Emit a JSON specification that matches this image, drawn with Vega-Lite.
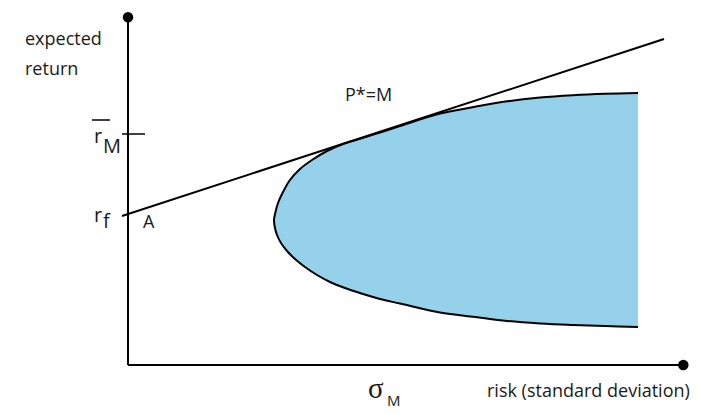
{
  "$schema": "https://vega.github.io/schema/vega-lite/v6.json",
  "width": 556,
  "height": 348,
  "autosize": {"type": "none"},
  "padding": {"left": 128, "top": 17, "right": 17, "bottom": 49},
  "background": "white",
  "config": {"view": {"stroke": null}},
  "datasets": {
    "frontier": [
      {"step": 1, "risk": 51.0, "ret": 27.2},
      {"step": 2, "risk": 47.7, "ret": 27.12},
      {"step": 3, "risk": 44.5, "ret": 26.98},
      {"step": 4, "risk": 41.2, "ret": 26.75},
      {"step": 5, "risk": 37.9, "ret": 26.37},
      {"step": 6, "risk": 34.7, "ret": 25.82},
      {"step": 7, "risk": 31.2, "ret": 25.15},
      {"step": 8, "risk": 27.2, "ret": 23.9},
      {"step": 9, "risk": 25.2, "ret": 23.25},
      {"step": 10, "risk": 23.2, "ret": 22.63},
      {"step": 11, "risk": 21.5, "ret": 22.1},
      {"step": 12, "risk": 19.9, "ret": 21.4},
      {"step": 13, "risk": 18.4, "ret": 20.5},
      {"step": 14, "risk": 17.2, "ret": 19.6},
      {"step": 15, "risk": 16.2, "ret": 18.5},
      {"step": 16, "risk": 15.5, "ret": 17.3},
      {"step": 17, "risk": 15.0, "ret": 16.2},
      {"step": 18, "risk": 14.75, "ret": 15.3},
      {"step": 19, "risk": 14.6, "ret": 14.5},
      {"step": 20, "risk": 14.7, "ret": 13.7},
      {"step": 21, "risk": 14.9, "ret": 13.0},
      {"step": 22, "risk": 15.3, "ret": 12.2},
      {"step": 23, "risk": 15.9, "ret": 11.4},
      {"step": 24, "risk": 16.7, "ret": 10.6},
      {"step": 25, "risk": 17.7, "ret": 9.8},
      {"step": 26, "risk": 18.9, "ret": 9.0},
      {"step": 27, "risk": 20.2, "ret": 8.3},
      {"step": 28, "risk": 21.7, "ret": 7.7},
      {"step": 29, "risk": 23.2, "ret": 7.2},
      {"step": 30, "risk": 25.2, "ret": 6.6},
      {"step": 31, "risk": 27.2, "ret": 6.15},
      {"step": 32, "risk": 31.2, "ret": 5.25},
      {"step": 33, "risk": 34.7, "ret": 4.8},
      {"step": 34, "risk": 37.9, "ret": 4.4},
      {"step": 35, "risk": 41.2, "ret": 4.15},
      {"step": 36, "risk": 44.5, "ret": 4.0},
      {"step": 37, "risk": 47.7, "ret": 3.9},
      {"step": 38, "risk": 51.0, "ret": 3.8}
    ],
    "thick": [
      {"name": "y axis", "x": 0, "y": 0, "x2": 0, "y2": 34.77},
      {"name": "x axis", "x": 0, "y": 0, "x2": 55.53, "y2": 0},
      {"name": "CML", "x": -0.6, "y": 14.9, "x2": 53.6, "y2": 32.6}
    ],
    "thin": [
      {"name": "rM tick", "x": -0.6, "y": 23.1, "x2": 1.7, "y2": 23.1},
      {"name": "rM bar", "x": -3.6, "y": 24.5, "x2": -1.8, "y2": 24.5}
    ],
    "dots": [
      {"x": 0, "y": 34.77},
      {"x": 55.53, "y": 0}
    ],
    "labels": [
      {"text": "expected", "x": -10.3, "y": 32.0, "kind": "main"},
      {"text": "return", "x": -10.3, "y": 29.0, "kind": "main"},
      {"text": "P*=M", "x": 21.7, "y": 26.4, "kind": "main"},
      {"text": "A", "x": 1.5, "y": 13.7, "kind": "main"},
      {"text": "risk (standard deviation)", "x": 35.9, "y": -3.2, "kind": "main"},
      {"text": "r", "x": -3.4, "y": 22.2, "kind": "big"},
      {"text": "M", "x": -2.5, "y": 21.2, "kind": "big"},
      {"text": "r", "x": -3.4, "y": 14.3, "kind": "big"},
      {"text": "f", "x": -2.5, "y": 13.7, "kind": "big"},
      {"text": "σ", "x": 24.0, "y": -3.3, "kind": "sigma"},
      {"text": "M", "x": 25.9, "y": -4.1, "kind": "sub"}
    ]
  },
  "layer": [
    {
      "data": {"name": "frontier"},
      "mark": {"type": "line", "fill": "#96d1eb", "stroke": "black", "strokeWidth": 2, "interpolate": "catmull-rom"},
      "encoding": {
        "x": {"field": "risk", "type": "quantitative", "scale": {"domain": [0, 55.6], "nice": false, "zero": false}, "axis": null},
        "y": {"field": "ret", "type": "quantitative", "scale": {"domain": [0, 34.8], "nice": false, "zero": false}, "axis": null},
        "order": {"field": "step", "type": "quantitative"}
      }
    },
    {
      "data": {"name": "thick"},
      "mark": {"type": "rule", "color": "black", "strokeWidth": 2},
      "encoding": {
        "x": {"field": "x", "type": "quantitative"},
        "y": {"field": "y", "type": "quantitative"},
        "x2": {"field": "x2"},
        "y2": {"field": "y2"}
      }
    },
    {
      "data": {"name": "thin"},
      "mark": {"type": "rule", "color": "black", "strokeWidth": 1.5},
      "encoding": {
        "x": {"field": "x", "type": "quantitative"},
        "y": {"field": "y", "type": "quantitative"},
        "x2": {"field": "x2"},
        "y2": {"field": "y2"}
      }
    },
    {
      "data": {"name": "dots"},
      "mark": {"type": "point", "filled": true, "color": "black", "opacity": 1, "size": 110, "shape": "circle"},
      "encoding": {
        "x": {"field": "x", "type": "quantitative"},
        "y": {"field": "y", "type": "quantitative"}
      }
    },
    {
      "data": {"name": "labels"},
      "transform": [{"filter": "datum.kind === 'main'"}],
      "mark": {"type": "text", "font": "Open Sans", "fontSize": 18, "align": "left", "baseline": "alphabetic", "color": "#1a1a1a"},
      "encoding": {
        "x": {"field": "x", "type": "quantitative"},
        "y": {"field": "y", "type": "quantitative"},
        "text": {"field": "text"}
      }
    },
    {
      "data": {"name": "labels"},
      "transform": [{"filter": "datum.kind === 'big'"}],
      "mark": {"type": "text", "font": "Open Sans", "fontSize": 20, "align": "left", "baseline": "alphabetic", "color": "#1a1a1a"},
      "encoding": {
        "x": {"field": "x", "type": "quantitative"},
        "y": {"field": "y", "type": "quantitative"},
        "text": {"field": "text"}
      }
    },
    {
      "data": {"name": "labels"},
      "transform": [{"filter": "datum.kind === 'sigma'"}],
      "mark": {"type": "text", "font": "Liberation Serif", "fontSize": 29, "align": "left", "baseline": "alphabetic", "color": "#1a1a1a"},
      "encoding": {
        "x": {"field": "x", "type": "quantitative"},
        "y": {"field": "y", "type": "quantitative"},
        "text": {"field": "text"}
      }
    },
    {
      "data": {"name": "labels"},
      "transform": [{"filter": "datum.kind === 'sub'"}],
      "mark": {"type": "text", "font": "Open Sans", "fontSize": 15, "align": "left", "baseline": "alphabetic", "color": "#1a1a1a"},
      "encoding": {
        "x": {"field": "x", "type": "quantitative"},
        "y": {"field": "y", "type": "quantitative"},
        "text": {"field": "text"}
      }
    }
  ]
}
